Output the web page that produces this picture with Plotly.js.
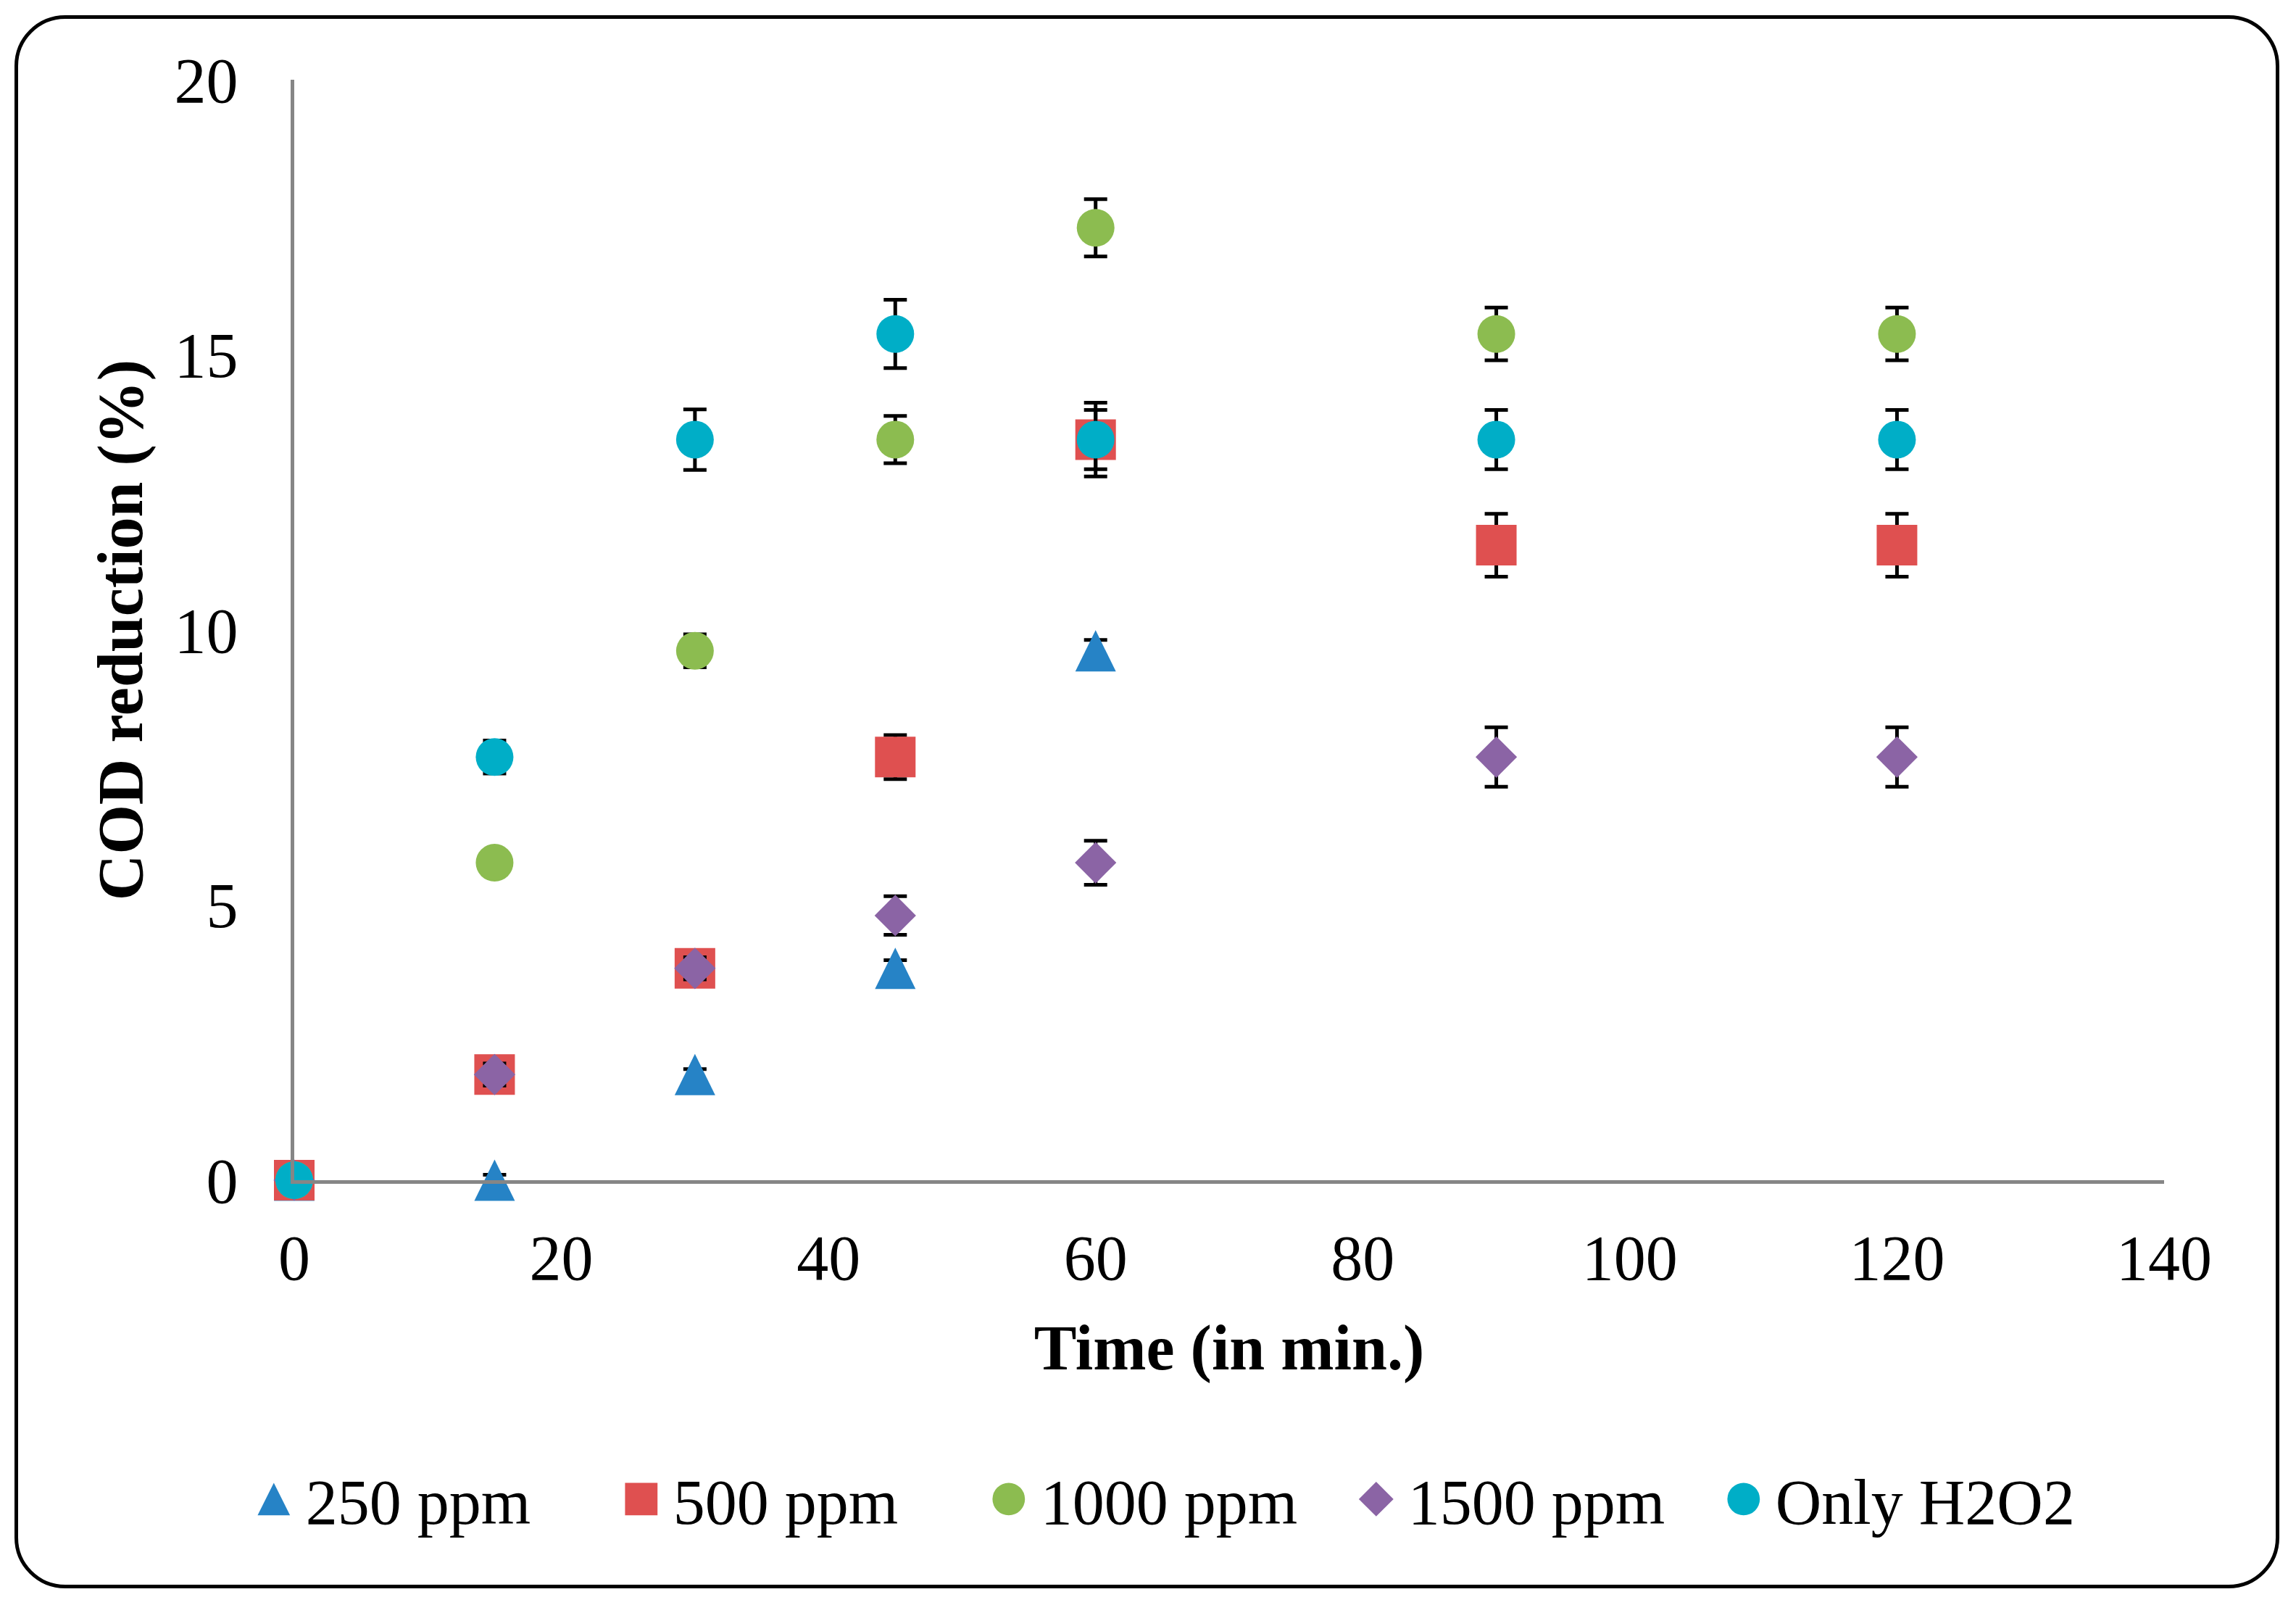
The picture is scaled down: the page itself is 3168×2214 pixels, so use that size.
<!DOCTYPE html>
<html>
<head>
<meta charset="utf-8">
<script src="https://cdn.plot.ly/plotly-3.0.1.min.js"></script>
<style>
  html, body { margin: 0; padding: 0; background: #fff; }
  #wrap { position: relative; width: 3168px; height: 2214px; }
  #chart { position: absolute; left: 0; top: 0; width: 3168px; height: 2214px; }
  #frame { position: absolute; left: 20px; top: 21px; width: 3115px; height: 2160px;
           border: 5px solid #000; border-radius: 70px; pointer-events: none; }
</style>
</head>
<body>
<div id="wrap">
  <div id="chart"></div>
  <div id="frame"></div>
</div>
<script>
// Time points (min)
var time_all = [0, 15, 30, 45, 60, 90, 120];
var time_250 = [0, 15, 30, 45, 60];

// COD reduction (%) for each dose
var cod_250 = [0, 0, 1.92, 3.85, 9.62];
var cod_500 = [0, 1.92, 3.85, 7.69, 13.46, 11.54, 11.54];
var cod_1000 = [0, 5.77, 9.62, 13.46, 17.31, 15.38, 15.38];
var cod_1500 = [0, 1.92, 3.85, 4.81, 5.77, 7.69, 7.69];
var cod_h2o2 = [0, 7.69, 13.46, 15.38, 13.46, 13.46, 13.46];

// error bar half-lengths
var err_250 = [0, 0.1, 0.1, 0.15, 0.2];
var err_500 = [0, 0.2, 0.2, 0.4, 0.67, 0.57, 0.57];
var err_1000 = [0, 0.2, 0.3, 0.43, 0.52, 0.48, 0.48];
var err_1500 = [0, 0.2, 0.2, 0.35, 0.4, 0.54, 0.54];
var err_h2o2 = [0, 0.3, 0.55, 0.62, 0.54, 0.54, 0.54];

var series_names = ["250 ppm", "500 ppm", "1000 ppm", "1500 ppm", "Only H2O2"];
var series_colors = ["#2683C6", "#DF5050", "#8CBC50", "#8B64A5", "#00AEC7"];
var series_symbols = ["triangle-up", "square", "circle", "diamond", "circle"];
var series_sizes = [50, 56, 52, 44, 52];

var xs = [time_250, time_all, time_all, time_all, time_all];
var ys = [cod_250, cod_500, cod_1000, cod_1500, cod_h2o2];
var errs = [err_250, err_500, err_1000, err_1500, err_h2o2];

var serif = "Liberation Serif, Times New Roman, serif";

var traces = [];
for (var i = 0; i < series_names.length; i++) {
    traces.push({
        x: xs[i],
        y: ys[i],
        name: series_names[i],
        type: "scatter",
        mode: "markers",
        cliponaxis: false,
        marker: {
            symbol: series_symbols[i],
            color: series_colors[i],
            size: series_sizes[i],
            line: {width: 0}
        },
        error_y: {
            type: "data",
            array: errs[i],
            visible: true,
            color: "#000",
            thickness: 5,
            width: 16
        }
    });
}

var layout = {
    width: 3168,
    height: 2214,
    paper_bgcolor: "rgba(0,0,0,0)",
    plot_bgcolor: "rgba(0,0,0,0)",
    margin: {l: 406, r: 182, t: 110, b: 586},
    font: {family: serif, size: 88, color: "#000"},
    showlegend: true,
    hovermode: false,
    legend: {
        orientation: "h",
        x: -0.021,
        xanchor: "left",
        y: -0.29,
        yanchor: "middle",
        font: {family: serif, size: 88, color: "#000"},
        itemwidth: 60,
        entrywidth: 432,
        entrywidthmode: "pixels",
        tracegroupgap: 0
    },
    xaxis: {
        range: [0, 140],
        dtick: 20,
        tick0: 0,
        showgrid: false,
        zeroline: false,
        showline: true,
        linecolor: "#868686",
        linewidth: 5,
        ticks: "",
        ticklabelstandoff: 26,
        tickfont: {family: serif, size: 88, color: "#000"},
        title: {
            text: "Time (in min.)",
            font: {family: serif, size: 88, color: "#000", weight: "bold"},
            standoff: 46
        }
    },
    yaxis: {
        range: [0, 20],
        dtick: 5,
        tick0: 0,
        showgrid: false,
        zeroline: false,
        showline: true,
        linecolor: "#868686",
        linewidth: 5,
        ticks: "",
        ticklabelstandoff: 55,
        tickfont: {family: serif, size: 88, color: "#000"},
        title: {
            text: "COD reduction (%)",
            font: {family: serif, size: 88, color: "#000", weight: "bold"},
            standoff: 16
        }
    }
};

Plotly.newPlot("chart", traces, layout, {staticPlot: true}).then(function (gd) {
    // taller, Excel-like triangles for the 250 ppm series
    var tri = gd.querySelectorAll(".scatterlayer .trace")[0].querySelectorAll("path.point");
    tri.forEach(function (p) {
        p.setAttribute("d", "M-28,28.5H28L0,-28.5Z");
    });

    // enlarge legend symbols and keep them just left of the text
    var items = gd.querySelectorAll(".legend .traces");
    items.forEach(function (item, k) {
        var txt = item.querySelector("text.legendtext");
        var tx = txt ? parseFloat(txt.getAttribute("x")) : 40;
        var sc = series_symbols[k] === "diamond" ? 2.3 : 2.8;
        item.querySelectorAll(".legendpoints path.scatterpts").forEach(function (p) {
            if (series_symbols[k] === "triangle-up") p.setAttribute("d", "M-8,8H8L0,-8Z");
            p.setAttribute("transform", "translate(" + (tx - 44) + ",0) scale(" + sc + ")");
        });
    });
});
</script>
</body>
</html>
